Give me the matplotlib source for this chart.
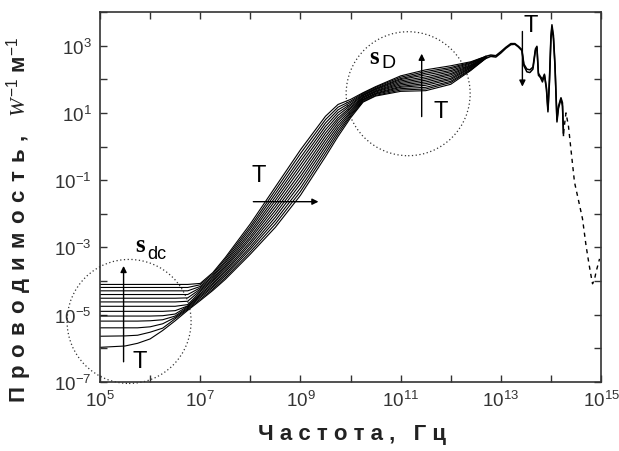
import numpy as np
import matplotlib.pyplot as plt
from matplotlib.patches import Ellipse
from matplotlib.ticker import FixedLocator, FuncFormatter, NullLocator

plt.rcParams['font.family'] = ['Liberation Sans', 'DejaVu Sans']
plt.rcParams['mathtext.fontset'] = 'custom'
plt.rcParams['mathtext.rm'] = 'Liberation Sans'
plt.rcParams['mathtext.it'] = 'Liberation Serif:italic'

# log10 of frequency (Hz) shared by the temperature family
log_f = [5.0, 5.5, 5.75, 6.0, 6.25, 6.5, 6.75, 7.0, 7.25, 7.5, 8.0, 8.5,
         9.0, 9.5, 9.75, 10.0, 10.25, 10.5, 11.0, 11.5, 12.0, 12.4, 12.7]

# log10 of conductivity, one row per temperature (lowest sigma_dc first)
log_sigma = [
    [-5.97, -5.93, -5.85, -5.72, -5.47, -5.18, -4.87, -4.58, -4.28, -3.95, -3.20, -2.40,
     -1.45, -0.30, 0.30, 0.85, 1.32, 1.50, 1.64, 1.66, 1.85, 2.26, 2.62],
    [-5.64, -5.63, -5.61, -5.52, -5.40, -5.12, -4.84, -4.54, -4.24, -3.90, -3.13, -2.30,
     -1.34, -0.20, 0.38, 0.90, 1.34, 1.52, 1.68, 1.71, 1.90, 2.28, 2.62],
    [-5.39, -5.39, -5.39, -5.36, -5.27, -5.08, -4.81, -4.49, -4.19, -3.84, -3.05, -2.20,
     -1.23, -0.10, 0.46, 0.94, 1.37, 1.55, 1.72, 1.76, 1.94, 2.30, 2.63],
    [-5.19, -5.19, -5.19, -5.18, -5.15, -5.04, -4.78, -4.45, -4.15, -3.79, -2.98, -2.10,
     -1.11, 0.00, 0.54, 0.99, 1.39, 1.57, 1.76, 1.82, 1.99, 2.33, 2.64],
    [-5.04, -5.04, -5.04, -5.04, -5.03, -4.98, -4.75, -4.41, -4.10, -3.73, -2.90, -2.00,
     -1.00, 0.10, 0.62, 1.03, 1.41, 1.59, 1.79, 1.87, 2.03, 2.35, 2.64],
    [-4.90, -4.90, -4.90, -4.90, -4.90, -4.88, -4.74, -4.37, -4.06, -3.68, -2.83, -1.90,
     -0.89, 0.20, 0.70, 1.08, 1.44, 1.62, 1.83, 1.92, 2.08, 2.37, 2.65],
    [-4.75, -4.75, -4.75, -4.75, -4.75, -4.75, -4.70, -4.32, -4.01, -3.62, -2.75, -1.80,
     -0.78, 0.30, 0.78, 1.13, 1.46, 1.64, 1.87, 1.97, 2.13, 2.39, 2.65],
    [-4.62, -4.62, -4.62, -4.62, -4.62, -4.62, -4.60, -4.28, -3.97, -3.57, -2.68, -1.70,
     -0.66, 0.40, 0.85, 1.17, 1.48, 1.66, 1.91, 2.02, 2.17, 2.41, 2.66],
    [-4.51, -4.51, -4.51, -4.51, -4.51, -4.51, -4.50, -4.24, -3.93, -3.52, -2.60, -1.60,
     -0.55, 0.50, 0.93, 1.22, 1.51, 1.69, 1.95, 2.07, 2.22, 2.43, 2.66],
    [-4.40, -4.40, -4.40, -4.40, -4.40, -4.40, -4.40, -4.20, -3.88, -3.46, -2.53, -1.50,
     -0.44, 0.60, 1.01, 1.26, 1.53, 1.71, 1.99, 2.13, 2.26, 2.46, 2.67],
    [-4.29, -4.29, -4.29, -4.29, -4.29, -4.29, -4.29, -4.16, -3.84, -3.41, -2.45, -1.40,
     -0.33, 0.70, 1.09, 1.31, 1.55, 1.73, 2.02, 2.18, 2.31, 2.48, 2.67],
    [-4.19, -4.19, -4.19, -4.19, -4.19, -4.19, -4.19, -4.11, -3.79, -3.35, -2.38, -1.30,
     -0.21, 0.80, 1.17, 1.35, 1.58, 1.76, 2.06, 2.23, 2.35, 2.50, 2.68],
    [-4.10, -4.10, -4.10, -4.10, -4.10, -4.10, -4.10, -4.07, -3.75, -3.30, -2.30, -1.20,
     -0.10, 0.90, 1.25, 1.40, 1.60, 1.78, 2.10, 2.28, 2.40, 2.52, 2.68],
]

# common infrared part (two extreme temperatures)
ir_log_f = [12.7, 12.8, 12.9, 13.0, 13.1, 13.2, 13.28, 13.35, 13.42, 13.46, 13.52,
            13.58, 13.64, 13.69, 13.72, 13.75, 13.79, 13.83, 13.87, 13.91, 13.94,
            13.97, 14.0, 14.02, 14.05, 14.08, 14.12, 14.15, 14.2, 14.23, 14.25]
ir_sigma_a = [2.62, 2.68, 2.66, 2.78, 2.92, 3.03, 3.04, 2.96, 2.85, 2.40, 2.22,
              2.20, 2.30, 2.85, 2.95, 2.12, 2.05, 1.92, 2.12, 1.70, 1.03,
              1.90, 3.20, 3.55, 3.20, 2.40, 0.73, 1.13, 1.42, 1.20, 0.33]
ir_sigma_b = [2.68, 2.72, 2.70, 2.82, 2.95, 3.06, 3.06, 2.98, 2.88, 2.45, 2.30,
              2.28, 2.36, 2.90, 2.98, 2.18, 2.08, 2.00, 2.15, 1.75, 1.10,
              2.00, 3.30, 3.62, 3.30, 2.45, 0.80, 1.20, 1.45, 1.30, 0.40]

# extrapolated tail (dashed)
tail_log_f = [14.25, 14.30, 14.35, 14.40, 14.47, 14.55, 14.63, 14.70, 14.76, 14.80,
              14.83, 14.87, 14.90, 14.97]
tail_sigma = [0.40, 1.00, 0.60, -0.10, -1.06, -1.60, -2.15, -2.94, -3.50, -3.84,
              -4.08, -3.95, -3.73, -3.34]

# dotted circles: centres (log f, log sigma)
circle_centres = [(5.58, -5.2), (11.15, 1.57)]
circle_radius_px = 62

fig = plt.figure(figsize=(6.19, 4.52), dpi=100)
ax = fig.add_axes([0.1616, 0.1527, 0.8094, 0.8186])
ax.set_xscale('log')
ax.set_yscale('log')
ax.set_xlim(1e5, 1e15)
ax.set_ylim(1e-7, 1e4)

f = 10.0 ** np.array(log_f)
for row in log_sigma:
    ax.plot(f, 10.0 ** np.array(row), color='black', lw=0.8)

ir_f = 10.0 ** np.array(ir_log_f)
ax.plot(ir_f, 10.0 ** np.array(ir_sigma_a), color='black', lw=1.1)
ax.plot(ir_f, 10.0 ** np.array(ir_sigma_b), color='black', lw=1.1)
ax.plot(10.0 ** np.array(tail_log_f), 10.0 ** np.array(tail_sigma),
        color='black', lw=1.0, ls=(0, (3, 3)))

# dotted circles, round in pixels
for cx, cy in circle_centres:
    pos = ax.transAxes.inverted().transform(ax.transData.transform((10 ** cx, 10 ** cy)))
    w = 2 * circle_radius_px / ax.bbox.width
    h = 2 * circle_radius_px / ax.bbox.height
    ax.add_patch(Ellipse(pos, w, h, transform=ax.transAxes, fill=False,
                         ec='#333333', lw=0.9, ls=(0, (1, 2)), clip_on=False))

arrow = dict(arrowstyle='-|>', color='black', lw=1.0, mutation_scale=9,
             shrinkA=0, shrinkB=0)
ax.annotate('', xy=(10 ** 5.47, 10 ** -3.55), xytext=(10 ** 5.47, 10 ** -6.4), arrowprops=arrow)
ax.annotate('', xy=(10 ** 9.36, 10 ** -1.64), xytext=(10 ** 8.06, 10 ** -1.64), arrowprops=arrow)
ax.annotate('', xy=(10 ** 11.42, 10 ** 2.76), xytext=(10 ** 11.42, 10 ** 0.89), arrowprops=arrow)
ax.annotate('', xy=(10 ** 13.43, 10 ** 1.78), xytext=(10 ** 13.43, 10 ** 3.42), arrowprops=arrow)

tkw = dict(fontsize=17, ha='center', va='center')
ax.text(10 ** 5.8, 10 ** -6.37, 'T', **tkw)
ax.text(10 ** 8.16, 10 ** -0.85, 'T', **tkw)
ax.text(10 ** 11.8, 10 ** 1.07, 'T', **tkw)
ax.text(10 ** 13.6, 10 ** 3.6, 'T', **tkw)

ax.text(10 ** 5.8, 10 ** -2.9, 's', family='Liberation Serif', fontweight='bold',
        fontsize=18, ha='center', va='center')
ax.text(10 ** 5.95, 10 ** -3.18, 'dc', fontsize=13, ha='left', va='center')
ax.text(10 ** 10.46, 10 ** 2.67, 's', family='Liberation Serif', fontweight='bold',
        fontsize=18, ha='center', va='center')
ax.text(10 ** 10.62, 10 ** 2.5, 'D', fontsize=14, ha='left', va='center')

# ticks: every decade, labels on odd exponents
def odd_decades(v, _):
    e = int(round(np.log10(v)))
    return r'$\mathregular{10^{%d}}$' % e if e % 2 else ''

ax.xaxis.set_major_locator(FixedLocator(10.0 ** np.arange(5, 16)))
ax.yaxis.set_major_locator(FixedLocator(10.0 ** np.arange(-7, 5)))
ax.xaxis.set_major_formatter(FuncFormatter(odd_decades))
ax.yaxis.set_major_formatter(FuncFormatter(odd_decades))
ax.xaxis.set_minor_locator(NullLocator())
ax.yaxis.set_minor_locator(NullLocator())
ax.tick_params(which='both', direction='in', top=True, right=True, length=5,
               width=1.0, color='#333333', labelcolor='#333333', labelsize=13.5, pad=6)
for s in ax.spines.values():
    s.set_linewidth(1.2)
    s.set_color('#333333')

# widely spaced bold axis titles
hs = '\u200a'
ylab = (' ' + hs).join('Проводимость,') + '   $W^{-1}$ м$^{-1}$'
ax.set_ylabel(ylab, fontsize=16, fontweight='bold', color='#222222')
ax.yaxis.set_label_coords(-0.132, 0.44)
ax.set_xlabel('Ч а с т о т а ,   Г ц', fontsize=16, fontweight='bold', color='#222222')
ax.xaxis.set_label_coords(0.503, -0.11)

fig.savefig('out.png', dpi=100)
